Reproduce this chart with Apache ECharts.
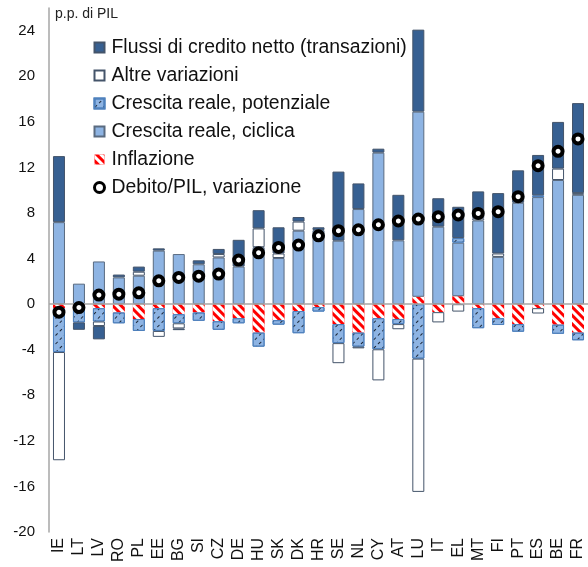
<!DOCTYPE html>
<html>
<head>
<meta charset="utf-8">
<script src="https://cdn.jsdelivr.net/npm/echarts@6/dist/echarts.min.js"></script>
<style>
  html, body { margin: 0; padding: 0; background: #fff; }
  #chart { width: 588px; height: 567px; }
</style>
</head>
<body>
<div id="chart"></div>
<script>
// paesi (asse x)
const countries = ['IE', 'LT', 'LV', 'RO', 'PL', 'EE', 'BG', 'SI', 'CZ', 'DE', 'HU', 'SK', 'DK', 'HR',
  'SE', 'NL', 'CY', 'AT', 'LU', 'IT', 'EL', 'MT', 'FI', 'PT', 'ES', 'BE', 'FR']

// componenti, p.p. di PIL
const inflazione = [-0.35, -0.45, -0.35, -0.73, -1.3, -0.35, -0.88, -0.73, -1.5, -1.23, -2.5, -1.4, -0.6, -0.25,
  -1.75, -2.5, -1.23, -1.3, 0.65, -0.7, 0.7, -0.35, -1.23, -1.75, -0.35, -1.8, -2.5]
const ciclica = [7.2, 1.8, 3.75, 2.35, 2.5, 4.7, 4.4, 3.5, 4.1, 3.3, 5.0, 4.05, 6.45, 6.5,
  5.57, 8.35, 13.3, 5.6, 16.25, 6.8, 4.7, 7.35, 4.15, 8.9, 9.4, 10.9, 9.6]
const potenziale = [-3.85, -1.15, -1.17, -0.95, -1.05, -2.0, -0.8, -0.73, -0.75, -0.45, -1.23, -0.4, -1.95, -0.4,
  -1.67, -1.23, -2.73, -0.45, -4.78, 0, 0.4, -1.76, -0.6, -0.67, 0.15, -0.8, -0.67]
const altre = [-9.5, 0, -0.4, 0, 0.35, -0.52, -0.45, 0, 0.3, 0, 1.65, 0.4, 0.8, 0,
  -1.76, -0.15, -2.73, -0.45, -11.7, -0.9, -0.65, 0.2, 0.3, 0, -0.47, 1.0, 0.15]
const flussi = [5.8, -0.65, -1.17, 0.25, 0.45, 0.2, -0.15, 0.35, 0.45, 2.35, 1.6, 2.3, 0.4, 0.25,
  6.07, 2.25, 0.35, 4.0, 7.2, 2.5, 2.75, 2.35, 5.3, 2.85, 3.55, 4.1, 7.9]
const debito = [-0.7, -0.3, 0.8, 0.88, 1.0, 2.05, 2.35, 2.46, 2.64, 3.87, 4.51, 4.98, 5.19, 6.0,
  6.45, 6.53, 6.97, 7.3, 7.47, 7.68, 7.83, 7.97, 8.12, 9.44, 12.16, 13.42, 14.51]

const yTicks = { min: -20, max: 26, interval: 4 }

const chart = echarts.init(document.getElementById('chart'), null, { renderer: 'canvas' })

const noZero = arr => arr.map(v => (v === 0 ? '-' : v))

function barSeries(name, data, itemStyle, extra) {
  return Object.assign({
    name: name,
    type: 'bar',
    stack: 'tot',
    barWidth: 12,
    data: noZero(data),
    itemStyle: itemStyle,
    emphasis: { disabled: true }
  }, extra || {})
}

chart.setOption({
  animation: false,
  textStyle: { fontFamily: 'Liberation Sans, Arial, sans-serif' },
  grid: { left: 49, right: -3, top: 8, bottom: 35, containLabel: false },
  graphic: [{
    type: 'text', left: 55, top: 7,
    style: { text: 'p.p. di PIL', fontSize: 14, fill: '#222', fontFamily: 'Liberation Sans, Arial, sans-serif' }
  }],
  legend: {
    orient: 'vertical',
    left: 88, top: 33,
    itemWidth: 10, itemHeight: 10,
    itemGap: 9,
    icon: 'rect',
    textStyle: { fontSize: 19.4, color: '#111', padding: [0, 0, 0, 2] },
    data: [
      'Flussi di credito netto (transazioni)',
      'Altre variazioni',
      'Crescita reale, potenziale',
      'Crescita reale, ciclica',
      'Inflazione',
      { name: 'Debito/PIL, variazione', icon: 'circle', itemStyle: { color: '#fff', borderColor: '#000', borderWidth: 3 } }
    ]
  },
  xAxis: {
    type: 'category',
    data: countries,
    axisLine: { show: false, onZero: false },
    axisTick: { show: false },
    axisLabel: { rotate: 90, fontSize: 16, color: '#111', margin: 6, interval: 0 }
  },
  yAxis: {
    type: 'value',
    min: yTicks.min, max: yTicks.max, interval: yTicks.interval,
    axisLine: { show: true, lineStyle: { color: '#A6A6A6', width: 1.5 } },
    axisTick: { show: false },
    splitLine: { show: false },
    axisLabel: { fontSize: 15, color: '#111', margin: 14, showMaxLabel: false }
  },
  series: [
    barSeries('Inflazione', inflazione, {
      color: '#FF0000',
      decal: { symbol: 'rect', symbolSize: 1, dashArrayX: [1, 0], dashArrayY: [3, 3], rotation: Math.PI / 4, color: '#fff' }
    }, {
      markLine: {
        silent: true, symbol: 'none', label: { show: false },
        lineStyle: { color: '#A6A6A6', width: 1.5, type: 'solid' },
        data: [{ yAxis: 0 }]
      }
    }),
    barSeries('Crescita reale, ciclica', ciclica, { color: '#8EB4E3', borderColor: '#5A6B80', borderWidth: 1 }),
    barSeries('Crescita reale, potenziale', potenziale, {
      color: '#8EB4E3', borderColor: '#4F81BD', borderWidth: 1,
      decal: { symbol: 'rect', symbolSize: 1, dashArrayX: [[3, 3]], dashArrayY: [1, 5], rotation: -Math.PI / 4, color: '#1F2A3A' }
    }),
    barSeries('Altre variazioni', altre, { color: '#fff', borderColor: '#44546A', borderWidth: 1 }),
    barSeries('Flussi di credito netto (transazioni)', flussi, { color: '#376092', borderColor: '#44546A', borderWidth: 1 }),
    {
      name: 'Debito/PIL, variazione',
      type: 'scatter',
      data: debito,
      symbol: 'circle',
      symbolSize: 9,
      z: 5,
      itemStyle: { color: '#fff', borderColor: '#000', borderWidth: 4, opacity: 1 },
      emphasis: { disabled: true }
    }
  ]
})
</script>
</body>
</html>
